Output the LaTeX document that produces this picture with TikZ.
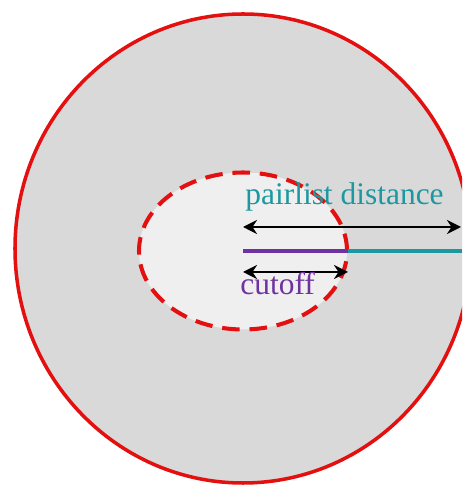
\documentclass[tikz,border=0pt]{standalone}
\usepackage{fontspec}
\setmainfont{Liberation Serif}
\usetikzlibrary{arrows.meta}

\definecolor{ringred}{RGB}{228,16,16}
\definecolor{shellgray}{RGB}{217,217,217}
\definecolor{coregray}{RGB}{239,239,239}
\definecolor{pairteal}{RGB}{28,152,160}
\definecolor{cutpurple}{RGB}{112,50,160}

\begin{document}
\begin{tikzpicture}[
    measure/.style={{Stealth[length=8pt,width=8pt]}-{Stealth[length=8pt,width=8pt]}, line width=1.2pt},
    lbl/.style={font=\fontsize{17.9}{20}\selectfont, inner sep=0pt, anchor=base west}
  ]

        % ---------------------------------------------------
        % 1. Frame and Shells
        % ---------------------------------------------------

        \clip (0, 0) rectangle (9.24, 9.74);
        \fill[white] (0, 0) rectangle (9.24, 9.74);

        % Outer shell (pairlist region)
        \draw[ringred, line width=2pt, fill=shellgray] (4.86, 4.77) ellipse (4.56 and 4.69);

        % Inner shell (cutoff region), dashed border
        \draw[ringred, line width=2.3pt, fill=coregray, dash pattern=on 10pt off 5.6pt]
            (4.86, 4.72) ellipse (2.08 and 1.57);

        % ---------------------------------------------------
        % 2. Radius Lines and Arrows
        % ---------------------------------------------------

        \coordinate (centre) at (4.86, 4.72);
        \coordinate (cutend) at (6.96, 4.72);
        \coordinate (edge) at (9.24, 4.72);

        % Teal part beyond cutoff, purple part within
        \draw[pairteal, line width=2.3pt] (cutend) -- (edge);
        \draw[cutpurple, line width=2.8pt] (centre) -- (cutend);

        % Arrows
        \coordinate (pairA) at (4.86, 5.20);
        \coordinate (pairB) at (9.22, 5.20);
        \coordinate (cutA) at (4.86, 4.30);
        \coordinate (cutB) at (6.96, 4.30);
        \draw[measure] (pairA) -- (pairB);
        \draw[measure] (cutA) -- (cutB);

        % ---------------------------------------------------
        % 3. Labels
        % ---------------------------------------------------

        \node[lbl, text=pairteal] (pairlbl) at (4.90, 5.64) {pairlist distance};
        \node[lbl, text=cutpurple] (cutlbl) at (4.80, 3.84) {cutoff};

\end{tikzpicture}
\end{document}
